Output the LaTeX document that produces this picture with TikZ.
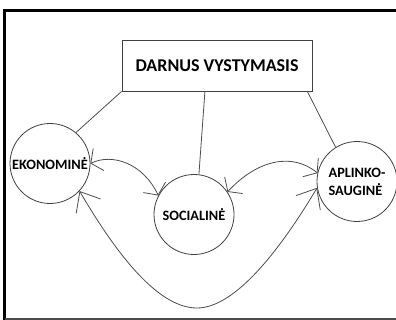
\documentclass[tikz,border=0pt]{standalone}
\usepackage{fontspec}
\setmainfont{Carlito}
\usetikzlibrary{arrows.meta}
\begin{document}
\begin{tikzpicture}[x=1pt,y=-1pt,
	ratas/.style={circle,draw=black!75,line width=.8pt,minimum size=80pt,inner sep=0pt,
		font=\fontsize{14.3}{18}\selectfont\bfseries},
	linija/.style={draw=black!70,line width=.8pt},
	rodykle/.style={linija,<->,>={Straight Barb[angle=110:15pt]}},
	ilgarodykle/.style={linija,<->,>={Straight Barb[angle=80:22pt]}}]
	\useasboundingbox (0,0) rectangle (396,320);
	
	%Rėmas
	\draw[line width=2.7pt] (4.7,9)--(4.7,320);
	\draw[line width=3pt] (3.4,10.5)--(396,10.5);
	\draw[black!70,line width=1.5pt] (4.7,319)--(396,319);
	
	%Pavadinimas
	\node[draw=black!75,line width=.8pt,minimum width=190pt,minimum height=51pt,inner sep=0pt,
		font=\fontsize{18}{20}\selectfont\bfseries] (darnus) at (217,65.5) {DARNUS VYSTYMASIS};
	
	%Apskritimai
	\node[ratas] (ekon) at (50,163.5) {EKONOMINĖ};
	\node[ratas] (soc) at (194,214.5) {SOCIALINĖ};
	\node[ratas,align=left] (aplink) at (357,181.5) {APLINKO-\\SAUGINĖ};
	
	%Linijos
	\draw[linija] (darnus.south west)--(ekon.50);
	\draw[linija] (darnus.-115)--(soc.83);
	\draw[linija] (darnus.-16)--(aplink.122);
	
	%Rodyklės
	\draw[rodykle] (ekon.0)
		..controls (112,153) and (143,163) .. (soc.152);
	\draw[rodykle] (soc.34)
		..controls (257,160) and (292,152) .. (aplink.168);
	\draw[ilgarodykle] (ekon.-43)
		..controls (120,260) and (160,308) .. (197,308)
		..controls (235,308) and (280,250) .. (aplink.-171);
	
\end{tikzpicture}
\end{document}
